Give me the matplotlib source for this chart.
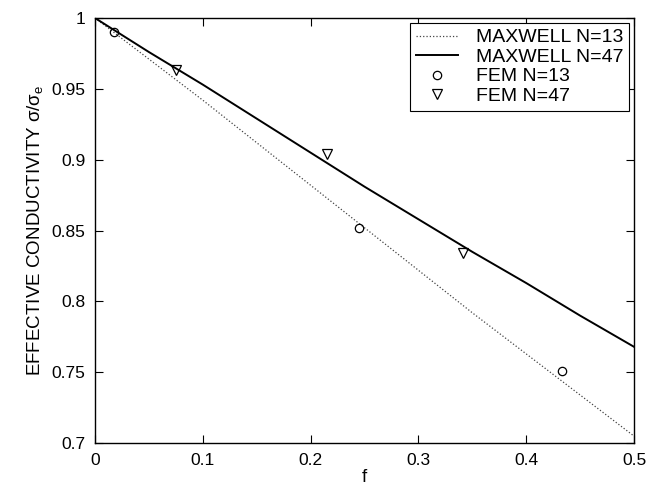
import matplotlib
matplotlib.use('Agg')
import matplotlib.pyplot as plt
import numpy as np

plt.rcParams['font.family'] = ['Liberation Sans', 'DejaVu Sans']
plt.rcParams['mathtext.fontset'] = 'dejavusans'

# curves
f_line = [0.0, 0.05, 0.1, 0.15, 0.2, 0.25, 0.3, 0.35, 0.4, 0.45, 0.5]
maxwell13 = [1.0, 0.971, 0.942, 0.912, 0.882, 0.852, 0.822, 0.792, 0.763, 0.734, 0.705]
maxwell47 = [1.0, 0.976, 0.953, 0.929, 0.905, 0.881, 0.858, 0.835, 0.813, 0.790, 0.768]

# FEM points
f_fem13 = [0.018, 0.245, 0.433]
fem13 = [0.990, 0.852, 0.751]
f_fem47 = [0.075, 0.215, 0.341]
fem47 = [0.963, 0.904, 0.834]

fig = plt.figure(figsize=(6.49, 4.87), dpi=100)
ax = fig.add_axes([0.1464, 0.090, 0.8305, 0.873])

ax.plot(f_line, maxwell13, ':', color='#444444', lw=0.9, label='MAXWELL N=13')
ax.plot(f_line, maxwell47, '-', color='black', lw=1.4, label='MAXWELL N=47')
ax.plot(f_fem13, fem13, 'o', mfc='none', mec='black', ms=6, mew=0.9, label='FEM N=13')
ax.plot(f_fem47, fem47, 'v', mfc='none', mec='black', ms=7, mew=0.9, label='FEM N=47')

ax.set_xlim(0, 0.5)
ax.set_ylim(0.7, 1.0)
ax.set_xticks([0, 0.1, 0.2, 0.3, 0.4, 0.5])
ax.set_xticklabels(['0', '0.1', '0.2', '0.3', '0.4', '0.5'])
ax.set_yticks([0.7, 0.75, 0.8, 0.85, 0.9, 0.95, 1.0])
ax.set_yticklabels(['0.7', '0.75', '0.8', '0.85', '0.9', '0.95', '1'])
ax.tick_params(direction='in', top=True, right=True, labelsize=12.5, length=6, width=0.8)
ax.tick_params(axis='y', pad=7)
ax.tick_params(axis='x', pad=7)
for s in ax.spines.values():
    s.set_linewidth(1.0)

ax.set_xlabel('f', fontsize=13.5, labelpad=1)
ax.set_ylabel('EFFECTIVE CONDUCTIVITY σ/σ$_\\mathregular{e}$', fontsize=13.5, labelpad=4)

leg = ax.legend(loc='upper right', fontsize=14, frameon=True, fancybox=False,
                edgecolor='black', framealpha=1, borderpad=0.3, labelspacing=0.1,
                handlelength=2.2, handletextpad=0.9, borderaxespad=0.25)
leg.get_frame().set_linewidth(0.8)

fig.savefig('out.png', dpi=100)
